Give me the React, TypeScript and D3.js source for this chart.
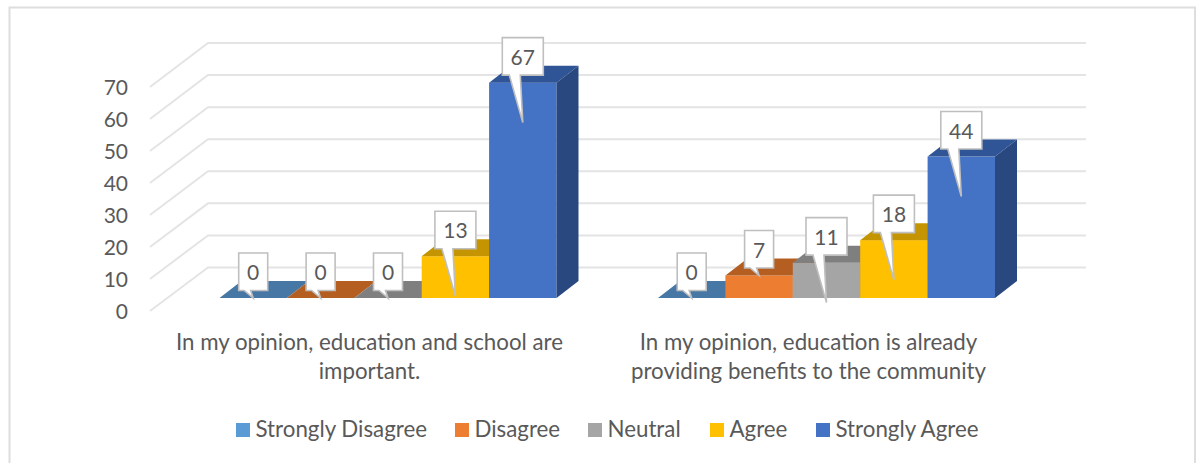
import React from "react";
import * as d3 from "d3";

const W = 1201, H = 463;
const categories = [
  ["In my opinion, education and school are", "important."],
  ["In my opinion, education is already", "providing benefits to the community"],
];
const seriesNames = ["Strongly Disagree", "Disagree", "Neutral", "Agree", "Strongly Agree"];
const group1Values = [0, 0, 0, 13, 67];
const group2Values = [0, 7, 11, 18, 44];
const yTicks = [0, 10, 20, 30, 40, 50, 60, 70];
const frontColors = ["#5B9BD5", "#ED7D31", "#A5A5A5", "#FFC000", "#4472C4"];
const topColors = ["#4677A5", "#B55E22", "#7F7F7F", "#C49500", "#2F5597"];
const sideColors = ["#3A6A96", "#A0521E", "#6E6E6E", "#A87F00", "#2A4880"];

const FONT = "Lato, 'Open Sans', sans-serif";
const TEXT = "#595959";
const y = d3.scaleLinear().domain([0, 70]).range([298, 73]);
const gridY = d3.scaleLinear().domain([0, 70]).range([267.5, 43]);
const tickY = d3.scaleLinear().domain([0, 70]).range([311, 87]);
const groupScale = d3.scaleOrdinal<number, number>().domain([0, 1]).range([219.5, 658]);
const barW = 67.4, depthX = 22, depthY = 17;

function Callout({ cx, top, value }: { cx: number; top: number; value: number }) {
  const w = String(value).length > 1 ? 41 : 29;
  const boxTop = top - 45, boxBot = top - 7.5;
  const tipY = value >= 10 ? top + 40 : top;
  const d = `M${cx - w / 2},${boxTop}H${cx + w / 2}V${boxBot}H${cx - 2.5}L${cx},${tipY}L${cx - (value >= 10 ? 13.5 : 9)},${boxBot}H${cx - w / 2}Z`;
  return (
    <g>
      <path d={d} fill="#fff" stroke="#BFBFBF" strokeWidth={1.6} />
      <text x={cx} y={boxTop + 27} textAnchor="middle" fontFamily={FONT} fontSize={21} fill={TEXT}>{value}</text>
    </g>
  );
}

function Group({ values, gi }: { values: number[]; gi: number }) {
  const x0 = groupScale(gi);
  return (
    <g>
      {values.map((v, i) => {
        const l = x0 + i * barW, r = l + barW, t = y(v), b = y(0);
        return (
          <g key={i}>
            {v > 0 && <rect x={l} y={t} width={barW} height={b - t} fill={frontColors[i]} />}
            <path d={`M${l},${t}L${l + depthX},${t - depthY}H${r + depthX}L${r},${t}Z`} fill={topColors[i]} />
            <path d={`M${r},${t}L${r + depthX},${t - depthY}V${b - depthY}L${r},${b}Z`} fill={sideColors[i]} />
          </g>
        );
      })}
    </g>
  );
}

export default function App() {
  const gridRight = 1086, gridLeft = 208, diagLeft = 150;
  const groups = [group1Values, group2Values];
  const legendX = [236, 455, 588, 710, 816];
  return (
    <svg width={W} height={H} style={{ position: "absolute", left: 0, top: 0 }}>
      <rect x={0} y={0} width={W} height={H} fill="#fff" />
      <path d="M9.5,463V7.5H1195V463" fill="none" stroke="#DEDEDE" strokeWidth={2} />
      {yTicks.map((t) => (
        <g key={t}>
          <path d={`M${diagLeft},${tickY(t)}L${gridLeft},${gridY(t)}H${gridRight}`} fill="none" stroke="#E4E4E4" strokeWidth={2} />
          <text x={128} y={tickY(t) + 8} textAnchor="end" fontFamily={FONT} fontSize={21} fill={TEXT}>{t}</text>
        </g>
      ))}
      {groups.map((vals, gi) => <Group key={gi} values={vals} gi={gi} />)}
      {groups.map((vals, gi) =>
        vals.map((v, i) => (
          <Callout key={`${gi}-${i}`} cx={groupScale(gi) + (i + 0.5) * barW} top={y(v)} value={v} />
        ))
      )}
      {categories.map((lines, gi) =>
        lines.map((ln, li) => (
          <text key={li} x={gi === 0 ? 369.5 : 808.5} y={350 + li * 29} textAnchor="middle" fontFamily={FONT} fontSize={22.3} fill={TEXT}>{ln}</text>
        ))
      )}
      {seriesNames.map((s, i) => (
        <g key={s}>
          <rect x={legendX[i]} y={423} width={14} height={14} fill={frontColors[i]} />
          <text x={legendX[i] + 19.5} y={437} fontFamily={FONT} fontSize={22.3} fill={TEXT}>{s}</text>
        </g>
      ))}
    </svg>
  );
}
